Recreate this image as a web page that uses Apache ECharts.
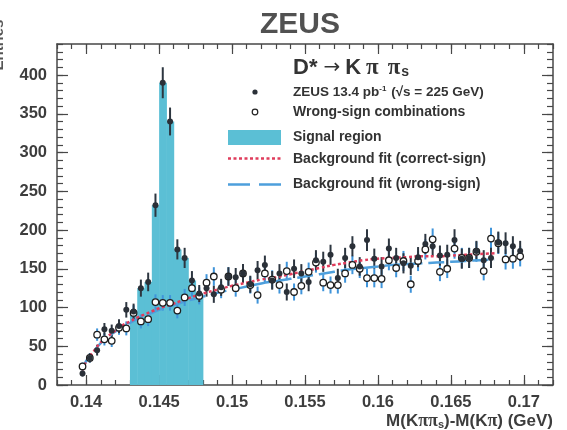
<!DOCTYPE html>
<html><head><meta charset="utf-8">
<script src="https://cdn.jsdelivr.net/npm/echarts@6/dist/echarts.min.js"></script>
<style>html,body{margin:0;padding:0;background:#fff}#c{width:567px;height:430px}</style>
</head><body><div id="c"></div>
<script>
// ---- data ----
const massBins = [
  0.13975,0.14025,0.14075,0.14125,0.14175,0.14225,0.14275,0.14325,0.14375,0.14425,
  0.14475,0.14525,0.14575,0.14625,0.14675,0.14725,0.14775,0.14825,0.14875,0.14925,
  0.14975,0.15025,0.15075,0.15125,0.15175,0.15225,0.15275,0.15325,0.15375,0.15425,
  0.15475,0.15525,0.15575,0.15625,0.15675,0.15725,0.15775,0.15825,0.15875,0.15925,
  0.15975,0.16025,0.16075,0.16125,0.16175,0.16225,0.16275,0.16325,0.16375,0.16425,
  0.16475,0.16525,0.16575,0.16625,0.16675,0.16725,0.16775,0.16825,0.16875,0.16925,
  0.16975];
const correctSign = [
  15,35,45,72,70,76,97,95,125,133,
  232,390,340,175,164,135,118,125,117,126,
  140,139,144,130,148,155,135,144,120,150,
  144,133,161,159,168,138,164,179,153,187,
  163,153,176,164,157,154,165,182,179,167,
  168,187,163,164,173,161,164,184,183,179,
  173];
const correctErr = [
  4,6,7,8,8,9,10,10,11,12,
  15,20,18,13,13,12,11,11,11,11,
  12,12,12,11,12,12,12,12,11,12,
  12,12,13,13,13,12,13,13,12,14,
  13,12,13,13,13,12,13,13,13,13,
  13,14,13,13,13,13,13,14,14,13,
  13];
const wrongSign = [
  24,35,65,59,57,74,73,93,82,85,
  107,106,106,96,113,125,115,132,140,123,
  140,125,144,129,116,144,136,129,147,120,
  128,146,158,132,129,129,144,155,150,138,
  138,137,161,151,160,130,160,175,188,146,
  150,176,164,164,172,147,189,183,162,163,
  166];
const wrongErr = [
  5,6,8,8,8,9,9,10,9,9,
  10,10,10,10,11,11,11,11,12,11,
  12,11,12,11,11,12,12,11,12,11,
  11,12,13,11,11,11,12,12,12,12,
  12,12,13,12,13,11,13,13,14,12,
  12,13,13,13,13,12,14,14,13,13,
  13];
const fitMass = [0.13975,0.1400,0.1405,0.1410,0.1415,0.1420,0.1425,0.1430,0.1435,0.1440,0.1445,0.1450,0.1455,0.1460,0.1470,0.1480,0.1490,0.1500,0.1510,0.1520,0.1530,0.1540,0.1550,0.1560,0.1570,0.1580,0.1590,0.1600,0.1610,0.1620,0.1630,0.1640,0.1650,0.1660,0.1670,0.1680];
const fitCorrect = [19,30,43,55,63,70,77,82,87,91,95,99,102,105,112,118,123,128,132,136,139,143,147,151,155,158,161,163,164,165,166,166,167,168,169,170];
const fitWrong   = [20,31,43,54,62,69,75,80,85,89,93,97,100,103,109,114,119,123,127,131,134,137,140,143,146,149,151,153,155,156,157,158,159,160,161,162];
const signalRange = [0.143, 0.148];
const binWidth = 0.0005;
const xTickLabels = [0.14,0.145,0.15,0.155,0.16,0.165,0.17];
const yTickLabels = [0,50,100,150,200,250,300,350,400];

// ---- build ----
const xMin = 0.138, xMax = 0.172, yMin = 0, yMax = 440;
const xMinor = []; for (let i = 138; i <= 172; i++) xMinor.push(i / 1000);
const yMinor = []; for (let v = 0; v <= 440; v += 10) yMinor.push(v);

const correctData = [], wrongData = [], correctErrData = [], wrongErrData = [], signalData = [];
massBins.forEach((m, i) => {
  correctData.push([m, correctSign[i]]);
  wrongData.push([m, wrongSign[i]]);
  correctErrData.push([m, correctSign[i] - correctErr[i], correctSign[i] + correctErr[i]]);
  wrongErrData.push([m, wrongSign[i] - wrongErr[i], wrongSign[i] + wrongErr[i]]);
  if (m > signalRange[0] && m < signalRange[1]) signalData.push([m, correctSign[i]]);
});
const fitCorrectData = fitMass.map((m, i) => [m, fitCorrect[i]]);
const fitWrongData = fitMass.map((m, i) => [m, fitWrong[i]]);

const frame = '#474747';
const labelColor = '#3d3d3d';
const cyan = '#5bbfd5';
const sans = '"Liberation Sans", Arial, sans-serif';
const serif = '"Liberation Serif", "DejaVu Serif", serif';

function xAx(pos, ticks, len, line, label) {
  return {
    type: 'value', position: pos, min: xMin, max: xMax,
    axisLine: { show: line, onZero: false, lineStyle: { color: frame, width: 1.5 } },
    axisTick: { show: true, inside: true, length: len, customValues: ticks, lineStyle: { color: frame, width: 1.2 } },
    axisLabel: label ? { show: true, customValues: xTickLabels, margin: 9, color: labelColor,
      fontSize: 16.5, fontWeight: 'bold', fontFamily: sans, formatter: v => String(+(+v).toFixed(4)) } : { show: false },
    splitLine: { show: false }
  };
}
function yAx(pos, ticks, len, line, label) {
  return {
    type: 'value', position: pos, min: yMin, max: yMax,
    axisLine: { show: line, onZero: false, lineStyle: { color: frame, width: 1.5 } },
    axisTick: { show: true, inside: true, length: len, customValues: ticks, lineStyle: { color: frame, width: 1.2 } },
    axisLabel: label ? { show: true, customValues: yTickLabels, margin: 10, color: labelColor,
      fontSize: 16.5, fontWeight: 'bold', fontFamily: sans } : { show: false },
    splitLine: { show: false }
  };
}

function errItem(color, w) {
  return function (params, api) {
    const a = api.coord([api.value(0), api.value(1)]);
    const b = api.coord([api.value(0), api.value(2)]);
    return { type: 'line', shape: { x1: a[0], y1: a[1], x2: b[0], y2: b[1] },
      style: { stroke: color, lineWidth: w } };
  };
}
function histItem(params, api) {
  const x = api.value(0), y = api.value(1);
  const p0 = api.coord([x - binWidth / 2, y]);
  const p1 = api.coord([x + binWidth / 2, 0]);
  return { type: 'rect', shape: { x: p0[0], y: p0[1], width: p1[0] - p0[0] + 0.5, height: p1[1] - p0[1] },
    style: { fill: cyan } };
}

const legX = 293, txt = { fontSize: 14, fontWeight: 'bold', fontFamily: sans, fill: '#333', verticalAlign: 'middle' };
const hdr = { fontWeight: 'bold', fill: '#333' };
const graphic = [
  { type: 'text', x: 300, y: 25, style: { text: 'ZEUS', fontSize: 30, fontWeight: 'bold', fontFamily: sans, fill: '#515151', align: 'center', verticalAlign: 'middle' } },
  { type: 'text', x: -1, y: 45, rotation: Math.PI / 2, style: { text: 'Entries', fontSize: 15, fontWeight: 'bold', fontFamily: sans, fill: '#555', align: 'center', verticalAlign: 'middle' } },
  // legend header
  { type: 'text', x: 293, y: 68, style: {
      text: '{d|D*}{b|\u2192}{k|K}{p1|\u03c0}{p|\u03c0}{s|s}',
      verticalAlign: 'middle',
      rich: {
        d: Object.assign({ fontSize: 22, fontFamily: sans, padding: [0, 6, 0, 0] }, hdr),
        b: { fontSize: 20, fontFamily: '"DejaVu Sans", sans-serif', fill: '#333', padding: [0, 5, 0, 0] },
        k: Object.assign({ fontSize: 22, fontFamily: sans, padding: [0, 5, 0, 0] }, hdr),
        p1: Object.assign({ fontSize: 23, fontFamily: serif, padding: [0, 9, 0, 0] }, hdr),
        p: Object.assign({ fontSize: 23, fontFamily: serif }, hdr),
        s: Object.assign({ fontSize: 14, fontFamily: sans, verticalAlign: 'bottom', padding: [9, 0, 0, 1] }, hdr)
      } } },
  // legend rows
  { type: 'circle', shape: { cx: 255, cy: 92, r: 2.6 }, style: { fill: '#2a3038' } },
  { type: 'text', x: legX, y: 92, style: Object.assign({}, txt, {
      text: '{a|ZEUS 13.4 pb}{s|-1}{a| (\u221as = 225 GeV)}',
      rich: { a: { fontSize: 13.5, fontWeight: 'bold', fontFamily: sans, fill: '#333' },
              s: { fontSize: 8, fontWeight: 'bold', fontFamily: sans, fill: '#333', verticalAlign: 'top', padding: [0, 1, 6, 0] } } }) },
  { type: 'circle', shape: { cx: 255, cy: 112, r: 2.8 }, style: { fill: '#fff', stroke: '#222', lineWidth: 1.2 } },
  { type: 'text', x: legX, y: 112, style: Object.assign({}, txt, { text: 'Wrong-sign combinations' }) },
  { type: 'rect', shape: { x: 228, y: 130, width: 53, height: 15 }, style: { fill: cyan } },
  { type: 'text', x: legX, y: 137, style: Object.assign({}, txt, { text: 'Signal region' }) },
  { type: 'line', shape: { x1: 228, y1: 158.5, x2: 281, y2: 158.5 }, style: { stroke: '#e03d5c', lineWidth: 2.5, lineDash: [3, 2.5] } },
  { type: 'text', x: legX, y: 159, style: Object.assign({}, txt, { text: 'Background fit (correct-sign)' }) },
  { type: 'line', shape: { x1: 228, y1: 184.5, x2: 281, y2: 184.5 }, style: { stroke: '#4d9fdc', lineWidth: 2.5, lineDash: [22, 9] } },
  { type: 'text', x: legX, y: 184, style: Object.assign({}, txt, { text: 'Background fit (wrong-sign)' }) },
  // x axis name
  { type: 'text', right: 14, y: 421, style: {
      text: '{a|M(K}{p|\u03c0\u03c0}{s|s}{a|)-M(K}{p|\u03c0}{a|) (GeV)}',
      verticalAlign: 'middle',
      rich: { a: { fontSize: 17, fontWeight: 'bold', fontFamily: sans, fill: '#3d3d3d' },
              p: { fontSize: 18, fontWeight: 'bold', fontFamily: serif, fill: '#3d3d3d' },
              s: { fontSize: 11, fontWeight: 'bold', fontFamily: sans, fill: '#3d3d3d', verticalAlign: 'bottom', padding: [6, 0, 0, 0] } } } }
];

const chart = echarts.init(document.getElementById('c'), null, { renderer: 'canvas' });
chart.setOption({
  animation: false,
  backgroundColor: '#fff',
  grid: { left: 57, top: 44, width: 496, height: 341, containLabel: false },
  xAxis: [
    xAx('bottom', xTickLabels, 10, true, true),
    xAx('bottom', xMinor, 5, false, false),
    xAx('top', xTickLabels, 10, true, false),
    xAx('top', xMinor, 5, false, false)
  ],
  yAxis: [
    yAx('left', yTickLabels, 11, true, true),
    yAx('left', yMinor, 6, false, false),
    yAx('right', yTickLabels, 11, true, false),
    yAx('right', yMinor, 6, false, false)
  ],
  graphic: graphic,
  series: [
    { type: 'custom', name: 'Signal region', renderItem: histItem, data: signalData, encode: { x: 0, y: 1 }, z: 1 },
    { type: 'custom', name: 'wrong err', renderItem: errItem('#3f94da', 2), data: wrongErrData, encode: { x: 0, y: [1, 2] }, z: 2 },
    { type: 'custom', name: 'correct err', renderItem: errItem('#2d3640', 2), data: correctErrData, encode: { x: 0, y: [1, 2] }, z: 3 },
    { type: 'line', name: 'Background fit (wrong-sign)', data: fitWrongData, symbol: 'none', smooth: true, lineStyle: { color: '#4d9fdc', width: 2.5, type: [16, 6] }, z: 4 },
    { type: 'line', name: 'Background fit (correct-sign)', data: fitCorrectData, symbol: 'none', smooth: true, lineStyle: { color: '#e03d5c', width: 2.5, type: [3, 2.5] }, z: 5 },
    { type: 'scatter', name: 'Wrong-sign combinations', data: wrongData, symbol: 'circle', symbolSize: 6.5, itemStyle: { color: '#fff', borderColor: '#1e1e1e', borderWidth: 1.3, opacity: 1 }, z: 6 },
    { type: 'scatter', name: 'ZEUS 13.4 pb-1', data: correctData, symbol: 'circle', symbolSize: 6, itemStyle: { color: '#2a3038', opacity: 1 }, z: 7 }
  ]
});
</script>
</body></html>
